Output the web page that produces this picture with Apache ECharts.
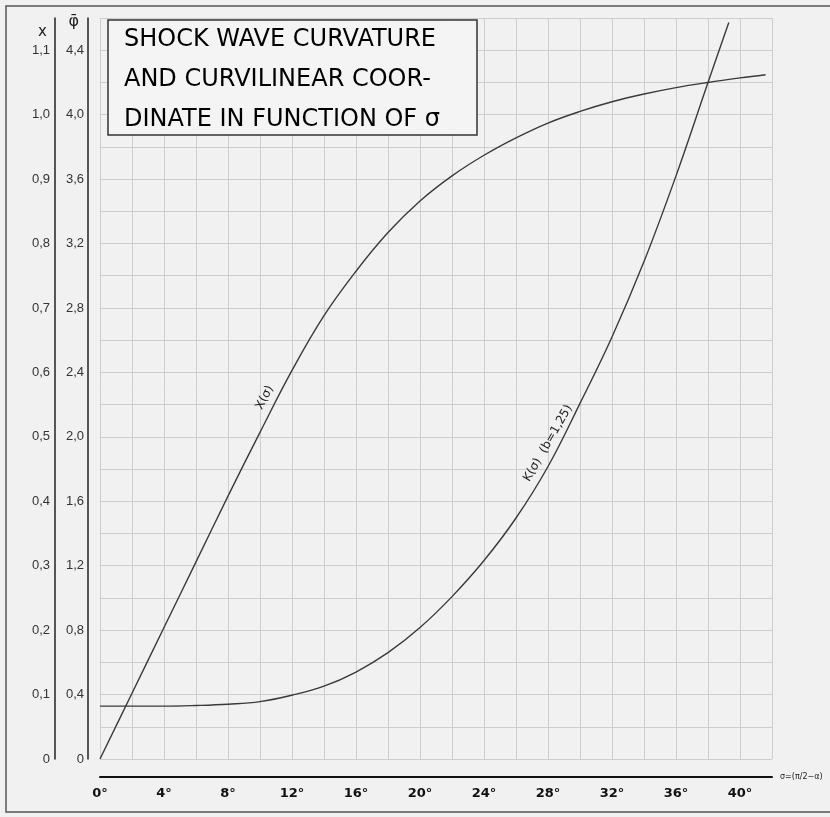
<!DOCTYPE html>
<html>
<head>
<meta charset="utf-8">
<script src="https://cdn.jsdelivr.net/npm/echarts@6/dist/echarts.min.js"></script>
<style>
  html, body { margin: 0; padding: 0; background: #f1f1f1; }
  #chart { width: 830px; height: 817px; }
</style>
</head>
<body>
<div id="chart"></div>
<script>
// σ in degrees
var sigmaX = [0, 2, 4, 6, 8, 10, 12, 14, 16, 18, 20, 22, 24, 26, 28, 30, 32, 34, 36, 38, 40, 41.6];
var xCurve = [0, 0.102, 0.204, 0.306, 0.408, 0.507, 0.603, 0.688, 0.757, 0.817, 0.866, 0.905, 0.937, 0.964, 0.987, 1.005, 1.02, 1.032, 1.042, 1.05, 1.057, 1.062];

var sigmaK = [0, 2, 4, 6, 8, 10, 12, 14, 16, 18, 20, 22, 24, 26, 28, 30, 32, 34, 36, 38, 39.3];
var kCurve = [0.082, 0.082, 0.082, 0.083, 0.085, 0.089, 0.099, 0.113, 0.135, 0.165, 0.204, 0.252, 0.308, 0.374, 0.454, 0.552, 0.655, 0.772, 0.905, 1.05, 1.143];

// tick labels
var xTickLabels = ['0', '0,1', '0,2', '0,3', '0,4', '0,5', '0,6', '0,7', '0,8', '0,9', '1,0', '1,1'];
var phiTickLabels = ['0', '0,4', '0,8', '1,2', '1,6', '2,0', '2,4', '2,8', '3,2', '3,6', '4,0', '4,4'];
var sigmaLabels = ['0°', '4°', '8°', '12°', '16°', '20°', '24°', '28°', '32°', '36°', '40°'];

var ink = '#3a3a3a';
var gridColor = '#cdcdcd';

function pairs(xs, ys) {
  return xs.map(function (v, i) { return [v, ys[i]]; });
}
function pick(labels, v, step) {
  var i = Math.round(v / step);
  if (Math.abs(v / step - i) > 1e-3 || i >= labels.length) return '';
  return labels[i];
}

var chart = echarts.init(document.getElementById('chart'));
var option = {
  backgroundColor: '#f1f1f1',
  animation: false,
  grid: { left: 100, right: 58, top: 18, bottom: 58, outerBoundsMode: 'none', containLabel: false },
  xAxis: {
    type: 'value', min: 0, max: 42, interval: 2, offset: 18,
    axisLine: { show: true, onZero: false, lineStyle: { color: '#111', width: 2 } },
    axisTick: { show: false },
    axisLabel: {
      margin: 10, color: '#111', fontSize: 13, fontWeight: 'bold', fontFamily: 'DejaVu Sans',
      formatter: function (v) { return pick(sigmaLabels, v, 4); }
    },
    splitLine: { show: true, lineStyle: { color: gridColor, width: 1 } },
    name: 'σ=(π/2−α)', nameLocation: 'end', nameGap: 8,
    nameTextStyle: { color: '#222', fontSize: 8, fontFamily: 'DejaVu Sans', padding: [18, 0, 0, 0] }
  },
  yAxis: [
    {
      type: 'value', min: 0, max: 1.15, interval: 0.05, position: 'left', offset: 45,
      axisLine: { show: true, onZero: false, lineStyle: { color: '#222', width: 1.5 } },
      axisTick: { show: false },
      axisLabel: {
        margin: 5, color: '#333', fontSize: 13, fontFamily: 'Liberation Sans',
        formatter: function (v) { return pick(xTickLabels, v, 0.1); }
      },
      splitLine: { show: true, lineStyle: { color: gridColor, width: 1 } },
      name: 'x', nameLocation: 'end', nameGap: -14,
      nameTextStyle: { color: '#222', fontSize: 15, fontFamily: 'DejaVu Sans', align: 'right', verticalAlign: 'middle', padding: [0, 8, 0, 0] }
    },
    {
      type: 'value', min: 0, max: 4.6, interval: 0.2, position: 'left', offset: 12,
      axisLine: { show: true, onZero: false, lineStyle: { color: '#222', width: 1.5 } },
      axisTick: { show: false },
      axisLabel: {
        margin: 4, color: '#333', fontSize: 13, fontFamily: 'Liberation Sans',
        formatter: function (v) { return pick(phiTickLabels, v, 0.4); }
      },
      splitLine: { show: false },
      name: 'φ̄', nameLocation: 'end', nameGap: -4,
      nameTextStyle: { color: '#222', fontSize: 16, fontFamily: 'DejaVu Sans', align: 'right', verticalAlign: 'middle', padding: [0, 9, 0, 0] }
    }
  ],
  series: [
    {
      name: 'X(σ)', type: 'line', smooth: 0.4, showSymbol: false,
      data: pairs(sigmaX, xCurve),
      lineStyle: { color: ink, width: 1.4 },
      markPoint: {
        symbol: 'circle', symbolSize: 1, itemStyle: { color: 'rgba(0,0,0,0)' },
        label: { show: true, position: 'inside', rotate: 63, color: '#222', fontSize: 12, fontFamily: 'DejaVu Sans' },
        data: [{ coord: [10.3, 0.561], value: 'X(σ)', label: { formatter: 'X(σ)' } }]
      }
    },
    {
      name: 'K(σ)', type: 'line', smooth: 0.4, showSymbol: false,
      data: pairs(sigmaK, kCurve),
      lineStyle: { color: ink, width: 1.4 },
      markPoint: {
        symbol: 'circle', symbolSize: 1, itemStyle: { color: 'rgba(0,0,0,0)' },
        label: { show: true, position: 'inside', rotate: 60, color: '#222', fontSize: 12, fontFamily: 'DejaVu Sans' },
        data: [{ coord: [28, 0.49], value: 'K', label: { formatter: 'K(σ)  (b=1,25)' } }]
      }
    }
  ],
  graphic: [
    {
      type: 'polyline', silent: true, z: 100,
      shape: { points: [[830, 6], [6, 6], [6, 812], [830, 812]] },
      style: { fill: 'none', stroke: '#555', lineWidth: 1.5 }
    },
    {
      type: 'rect', silent: true, z: 100,
      shape: { x: 108, y: 20, width: 369, height: 115 },
      style: { fill: '#f4f4f4', stroke: '#333', lineWidth: 1.5 }
    },
    {
      type: 'text', silent: true, z: 101, left: 124, top: 20,
      style: {
        text: 'SHOCK WAVE CURVATURE\nAND CURVILINEAR COOR-\nDINATE IN FUNCTION OF σ',
        fill: '#000', font: '24px "DejaVu Sans"', lineHeight: 40
      }
    }
  ]
};
chart.setOption(option);
</script>
</body>
</html>
